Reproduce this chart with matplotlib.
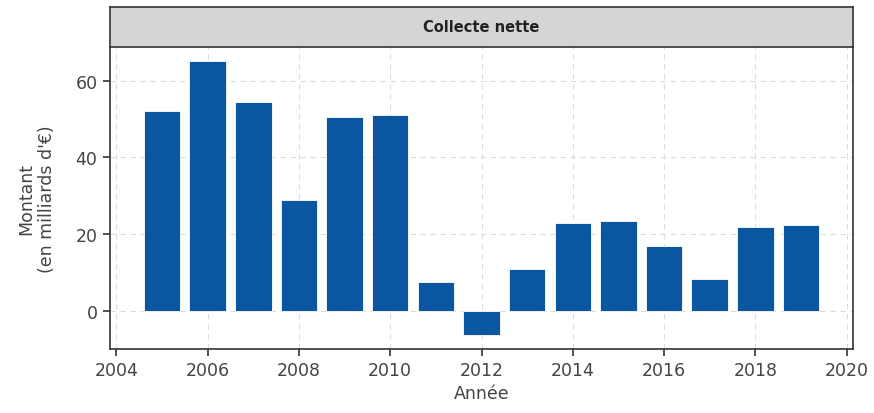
import matplotlib
matplotlib.use("Agg")
import matplotlib.pyplot as plt

years = [2005, 2006, 2007, 2008, 2009, 2010, 2011, 2012, 2013, 2014, 2015, 2016, 2017, 2018, 2019]
values = [52.2, 65.2, 54.4, 28.8, 50.6, 51.1, 7.6, -6.3, 10.9, 22.9, 23.4, 17.0, 8.3, 21.8, 22.3]
title = "Collecte nette"
xlabel = "Année"
ylabel = "Montant\n(en milliards d'€)"

W, H = 874, 414
fig = plt.figure(figsize=(W / 100, H / 100), dpi=100)
left, right, bottom, top = 110 / W, 853 / W, 1 - 350 / H, 1 - 48 / H
ax = fig.add_axes([left, bottom, right - left, top - bottom])
ax.bar(years, values, width=0.8, color="#0b56a0", edgecolor="white", linewidth=0.6, zorder=2)
ax.set_xticks([2004, 2006, 2008, 2010, 2012, 2014, 2016, 2018, 2020])
ax.set_yticks([0, 20, 40, 60])
ax.grid(True, linestyle=(0, (5, 4)), color="#dcdcdc", linewidth=0.8, zorder=0)
ax.set_axisbelow(True)
for s in ax.spines.values():
    s.set_color("#333333")
    s.set_linewidth(1.2)
ax.spines["top"].set_visible(False)
ax.tick_params(axis="both", colors="#333333", labelcolor="#444444", labelsize=12.5, length=5, width=1.2, pad=4)
ax.set_xlabel(xlabel, fontsize=12.5, color="#444444", labelpad=3)
ax.set_ylabel(ylabel, fontsize=12.5, color="#444444", labelpad=14)

sax = fig.add_axes([left, 1 - 48 / H, right - left, 40 / H])
sax.set_facecolor("#d5d5d7")
sax.set_xticks([])
sax.set_yticks([])
for s in sax.spines.values():
    s.set_color("#333333")
    s.set_linewidth(1.2)
sax.text(0.5, 0.5, title, ha="center", va="center", fontsize=10.5, fontweight="bold", color="#222222", transform=sax.transAxes)

fig.savefig("out.png", dpi=100)
